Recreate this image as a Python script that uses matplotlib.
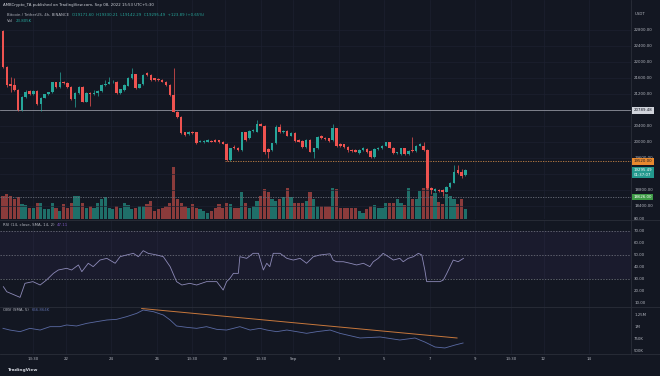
import matplotlib.pyplot as plt

# BTC/USDT 4h candles (Binance)
opens = [22780, 21880, 21440, 21425, 21300, 20800, 21130, 21270, 21200, 21270,
         20950, 21110, 21190, 21240, 21490, 21380, 21490, 21470, 21380, 21075,
         21217, 21380, 21008, 21230, 21200, 21217, 21275, 21425, 21458, 21492,
         21492, 21233, 21300, 21408, 21592, 21692, 21358, 21442, 21717, 21675,
         21590, 21575, 21550, 21508, 21425, 21175, 20758, 20633, 20242, 20192,
         20250, 20242, 20008, 19992, 20008, 20025, 20050, 20042, 20008, 19958,
         19550, 19880, 19858, 19800, 20242, 20092, 20275, 20258, 20442, 20408,
         19820, 19800, 19967, 20383, 20242, 20275, 20158, 20217, 20050, 20025,
         19883, 20050, 19758, 19842, 20158, 20108, 20092, 20050, 20342, 19942,
         19942, 19883, 19800, 19800, 19717, 19800, 19825, 19775, 19633, 19825,
         19842, 19908, 19992, 19858, 19717, 19692, 19842, 19692, 19800, 19775,
         19908, 19908, 19800, 18842, 18783, 18800, 18800, 18758, 18867, 18983,
         19300, 19258, 19171.60]
highs = [22800, 21900, 21630, 21590, 21320, 21150, 21300, 21300, 21290, 21290,
         21130, 21210, 21260, 21510, 21510, 21760, 21520, 21490, 21400, 21240,
         21400, 21400, 21240, 21260, 21300, 21300, 21450, 21560, 21620, 21540,
         21520, 21330, 21440, 21620, 21858, 21710, 21460, 21700, 21760, 21690,
         21610, 21600, 21570, 21530, 21440, 21858, 20780, 20650, 20260, 20270,
         20270, 20260, 20040, 20040, 20070, 20050, 20080, 20060, 20030, 19980,
         19860, 19920, 19880, 20260, 20260, 20290, 20330, 20550, 20470, 20430,
         19850, 19980, 20430, 20440, 20300, 20300, 20240, 20240, 20070, 20040,
         20070, 20070, 19860, 20150, 20180, 20130, 20110, 20440, 20360, 19970,
         19960, 19900, 19820, 19820, 19820, 19870, 19850, 19800, 19850, 19880,
         19930, 20010, 20010, 19880, 19760, 19860, 19860, 19790, 20133, 19930,
         19970, 20000, 19820, 18870, 18850, 18830, 18830, 18900, 19000, 19425,
         19420, 19330, 19330.21]
lows = [21860, 21380, 21260, 21280, 20780, 20780, 21100, 21170, 21180, 20930,
        20780, 21090, 21170, 21220, 21360, 21360, 21440, 21360, 21050, 20880,
        21200, 20990, 20990, 20900, 21180, 21150, 21260, 21410, 21440, 21470,
        21190, 21200, 21280, 21390, 21580, 21320, 21340, 21430, 21650, 21530,
        21530, 21520, 21490, 21400, 21150, 20740, 20600, 20190, 20150, 20170,
        20190, 19940, 19990, 19970, 19990, 19990, 19990, 19970, 19940, 19520,
        19530, 19820, 19780, 19780, 20030, 20070, 20250, 20240, 20390, 19700,
        19600, 19780, 19950, 20220, 20220, 20140, 20140, 20000, 19990, 19860,
        19860, 19740, 19592, 19820, 20070, 20050, 20000, 20030, 19880, 19880,
        19860, 19760, 19750, 19740, 19700, 19780, 19720, 19610, 19610, 19800,
        19820, 19890, 19840, 19700, 19690, 19670, 19670, 19670, 19760, 19760,
        19890, 19780, 18820, 18700, 18760, 18760, 18650, 18740, 18850, 18970,
        19190, 19100, 19142.29]
closes = [21880, 21420, 21400, 21300, 20800, 21130, 21260, 21200, 21270, 20950,
          21110, 21190, 21240, 21490, 21380, 21490, 21470, 21380, 21075, 21217,
          21380, 21008, 21217, 21200, 21217, 21275, 21425, 21458, 21492, 21500,
          21216, 21317, 21425, 21608, 21692, 21342, 21442, 21675, 21675, 21550,
          21550, 21540, 21510, 21425, 21175, 20758, 20633, 20217, 20175, 20242,
          20217, 19967, 20025, 20025, 20050, 20008, 20008, 19992, 19958, 19550,
          19842, 19840, 19800, 20242, 20050, 20275, 20300, 20442, 20408, 19742,
          19760, 19967, 20383, 20242, 20275, 20158, 20217, 20025, 20008, 19883,
          20050, 19758, 19842, 20133, 20092, 20075, 20025, 20342, 19908, 19908,
          19883, 19790, 19775, 19758, 19800, 19842, 19742, 19633, 19825, 19858,
          19908, 19992, 19858, 19717, 19742, 19842, 19692, 19775, 19775, 19908,
          19942, 19800, 18842, 18800, 18825, 18783, 18758, 18883, 18983, 19258,
          19217, 19158, 19295.49]
volumes_k = [55, 59, 54, 47, 51, 35, 33, 27, 25, 39, 38, 23, 23, 38, 25, 19, 35, 27,
             39, 55, 55, 39, 27, 31, 25, 38, 47, 51, 27, 23, 31, 27, 39, 33, 23, 25,
             31, 31, 35, 43, 19, 23, 27, 31, 39, 123, 47, 39, 31, 27, 35, 27, 23, 19,
             15, 19, 25, 35, 27, 39, 35, 27, 25, 65, 38, 27, 31, 43, 55, 70, 63, 47,
             43, 47, 51, 73, 51, 39, 39, 39, 43, 63, 47, 31, 31, 31, 31, 74, 71, 25,
             27, 25, 27, 25, 19, 15, 23, 31, 33, 27, 27, 39, 39, 39, 47, 39, 33, 73,
             47, 47, 67, 73, 73, 55, 62, 41, 35, 59, 55, 47, 35, 47, 23.8]

# RSI and OBV traced along the candle index
rsi_idx = [0.1, 1.0, 4.5, 5.8, 7.9, 9.8, 11.5, 13.3, 14.6, 16.8, 18.1, 19.9, 20.8,
           22.5, 23.8, 25.6, 27.4, 29.6, 30.9, 32.6, 34.4, 35.7, 37.0, 38.3, 40.6,
           42.3, 44.1, 45.8, 47.2, 49.3, 51.1, 53.7, 56.4, 58.1, 59.0, 59.9, 60.8,
           62.1, 62.5, 64.3, 66.0, 67.4, 68.7, 69.6, 70.4, 71.3, 73.1, 74.9, 76.6,
           78.4, 80.1, 81.9, 83.6, 86.3, 87.1, 88.0, 89.8, 91.6, 93.3, 95.1, 96.8,
           97.7, 99.0, 100.3, 101.7, 103.0, 104.7, 105.6, 106.9, 108.3, 109.6,
           110.5, 111.3, 111.8, 113.5, 115.3, 116.2, 117.1, 118.8, 120.1, 121.5]
rsi_vals = [23.6, 19.4, 14.7, 26.4, 27.8, 25.0, 29.2, 34.7, 37.5, 38.9, 37.5, 41.7,
            36.1, 43.1, 40.3, 45.8, 47.2, 43.1, 48.6, 50.0, 51.4, 48.6, 53.6, 51.4,
            50.0, 48.6, 40.3, 27.8, 25.0, 26.4, 25.0, 27.8, 27.8, 20.8, 27.8, 30.6,
            34.7, 34.7, 48.6, 47.2, 51.4, 51.4, 37.5, 43.1, 40.3, 51.4, 51.4, 47.2,
            45.8, 47.2, 43.1, 48.6, 50.0, 51.0, 45.8, 44.4, 44.4, 43.1, 41.7, 43.1,
            40.3, 44.4, 47.2, 51.4, 48.6, 45.8, 47.2, 44.4, 47.2, 48.6, 51.4, 50.0,
            37.5, 27.8, 27.8, 27.8, 29.2, 34.7, 45.8, 44.4, 47.2]
obv_idx = [0, 1.8, 4.5, 7.1, 9.8, 12.4, 15.0, 16.8, 19.4, 22.1, 24.7, 27.4, 30.0,
           32.6, 35.3, 37.0, 39.7, 42.3, 44.1, 45.8, 48.5, 51.1, 53.7, 56.4, 59.0,
           60.8, 62.5, 65.2, 67.8, 69.6, 72.2, 74.9, 77.5, 80.1, 82.8, 86.3, 88.9,
           94.2, 99.5, 104.7, 108.7, 111.3, 114.0, 116.6, 119.3, 121.4]
obv_k = [972, 937, 903, 972, 937, 1007, 1007, 1042, 1021, 1076, 1111, 1146, 1160,
         1215, 1285, 1354, 1319, 1250, 1146, 1021, 993, 972, 1007, 951, 937, 972,
         1007, 937, 972, 937, 903, 937, 903, 868, 903, 937, 868, 771, 792, 729,
         771, 687, 583, 563, 625, 667]
obv_trend_idx = [36.6, 119.8]
obv_trend_k = [1385, 771]

price_ticks = [22800, 22400, 22000, 21600, 21200, 20800, 20400, 20000, 19600, 19200, 18800, 18400]
price_labels_shown = [22800, 22400, 22000, 21600, 21200, 20400, 20000, 19600, 18800, 18400]
rsi_ticks = [80, 70, 60, 50, 40, 30, 20, 10]
obv_ticks = [1250, 1000, 750, 500]
obv_tick_labels = ['1.25M', '1M', '750K', '500K']
# days after Aug 22 00:00 (UTC+5:30)
time_ticks = [-1.4375, 0, 2, 4, 5.5625, 7, 8.5625, 10, 12, 14, 16, 18, 19.5625, 21, 23]
time_labels = ['13:30', '22', '24', '26', '13:30', '29', '13:30', 'Sep', '3', '5', '7',
               '9', '13:30', '12', '14']

resistance = 20789.48
level_mid = 19520.00
level_low = 18626.00
countdown = '01:37:07'

BG = '#131722'
UP = '#26a69a'
DOWN = '#ef5350'
TXT = '#b2b5be'
GRID = '#1c2030'
FS = 2.8
W, H = 660, 376
RIGHT = 631

first_day = -2.7708  # first candle opens Aug 19 05:30
xs = [first_day + i / 6 for i in range(len(opens))]
rsi_x = [first_day + i / 6 for i in rsi_idx]
obv_x = [first_day + i / 6 for i in obv_idx]
trend_x = [first_day + i / 6 for i in obv_trend_idx]

fig = plt.figure(figsize=(W / 100, H / 100), dpi=100, facecolor=BG)
renderer = fig.canvas.get_renderer()


def pane(top, bottom, **kw):
    return fig.add_axes([0, 1 - bottom / H, RIGHT / W, (bottom - top) / H], **kw)


def text_row(x_px, y_px, parts, gap=2.5):
    # draw coloured pieces of one line side by side
    x = x_px
    for s, c in parts:
        t = fig.text(x / W, 1 - y_px / H, s, color=c, fontsize=FS, va='center')
        x = t.get_window_extent(renderer).x1 + gap


vol_ax = pane(0, 219)
ax = pane(0, 219, sharex=vol_ax)
rsi_ax = pane(220, 307, sharex=vol_ax)
obv_ax = pane(307, 354, sharex=vol_ax)

for a in (vol_ax, ax, rsi_ax, obv_ax):
    a.set_facecolor('none')
    for s in a.spines.values():
        s.set_visible(False)
    a.tick_params(left=False, bottom=False, labelleft=False, labelbottom=False)
vol_ax.set_facecolor(BG)
vol_ax.set_xlim(-66 / 22.74, (RIGHT - 66) / 22.74)

# grid
for a in (vol_ax, rsi_ax, obv_ax):
    for t in time_ticks:
        a.axvline(t, color=GRID, lw=0.5, zorder=0)
for p in price_ticks:
    ax.axhline(p, color=GRID, lw=0.5, zorder=0)

# volume
vol_colors = ['#1f6f69' if c >= o else '#8a3b3b' for o, c in zip(opens, closes)]
vol_ax.bar(xs, volumes_k, width=0.14, color=vol_colors, zorder=1)
vol_ax.set_ylim(0, 123 * 219 / 52)

# candles
ax.set_ylim(22800 - 189 * 25, 22800 + 30 * 25)
col = [UP if c >= o else DOWN for o, c in zip(opens, closes)]
ax.vlines(xs, lows, highs, colors=col, lw=0.5, zorder=3)
bodies = [max(abs(c - o), 12) for o, c in zip(opens, closes)]
ax.bar(xs, bodies, bottom=[min(o, c) for o, c in zip(opens, closes)], width=0.11,
       color=col, zorder=4)

ax.axhline(resistance, color='#8f929c', lw=0.6, zorder=2)
ax.hlines(level_mid, 7.0, 30, color='#c98545', lw=0.6, ls=(0, (1.5, 1.5)), zorder=2)
ax.axhline(level_low, color='#6c707c', lw=0.6, ls=(0, (1.5, 1.5)), zorder=2)

# price axis
yt = ax.get_yaxis_transform()
for p in price_labels_shown:
    ax.text(1.005, p, f'{p:.2f}', transform=yt, color=TXT, fontsize=FS, va='center',
            clip_on=False)
ax.text(1.005, 23200, 'USDT', transform=yt, color=TXT, fontsize=FS, va='center')
box = dict(boxstyle='square,pad=0.35', ec='none')
ax.text(1.004, resistance, f'{resistance:.2f}', transform=yt, color='#131722', fontsize=FS,
        va='center', bbox=dict(box, fc='#d1d4dc'), zorder=10)
ax.text(1.004, level_mid, f'{level_mid:.2f}', transform=yt, color='#131722', fontsize=FS,
        va='center', bbox=dict(box, fc='#e8892f'), zorder=10)
ax.text(1.004, closes[-1] - 60, f'{closes[-1]:.2f}\n{countdown}', transform=yt,
        color='white', fontsize=FS, va='center', linespacing=1.1,
        bbox=dict(box, fc='#23998e'), zorder=10)
ax.text(1.004, level_low, f'{level_low:.2f}', transform=yt, color='white', fontsize=FS,
        va='center', bbox=dict(box, fc='#3d9a45'), zorder=10)

# RSI pane
rsi_ax.set_ylim(70 - (307 - 231) / 1.2, 70 + 11 / 1.2)
rsi_ax.axhspan(30, 70, color='#7e57c2', alpha=0.07, lw=0)
for lvl in (70, 50, 30):
    rsi_ax.axhline(lvl, color='#787b86', lw=0.5, ls=(0, (2, 2)))
rsi_ax.plot(rsi_x, rsi_vals, color='#8d8ab8', lw=0.6)
yt = rsi_ax.get_yaxis_transform()
for v in rsi_ticks:
    rsi_ax.text(1.005, v, f'{v:.2f}', transform=yt, color=TXT, fontsize=FS, va='center')

# OBV pane
obv_ax.set_ylim(1250 - 39 * 250 / 12, 1250 + 8 * 250 / 12)
obv_ax.plot(obv_x, obv_k, color='#5a6aa3', lw=0.6)
obv_ax.plot(trend_x, obv_trend_k, color='#c8783c', lw=0.7)
yt = obv_ax.get_yaxis_transform()
for v, lab in zip(obv_ticks, obv_tick_labels):
    obv_ax.text(1.005, v, lab, transform=yt, color=TXT, fontsize=FS, va='center')
xt = obv_ax.get_xaxis_transform()
for t, lab in zip(time_ticks, time_labels):
    obv_ax.text(t, -0.106, lab, transform=xt, color=TXT, fontsize=FS, ha='center',
                va='center')

# pane separators and price-scale border
for y in (219.5, 307, 354):
    fig.add_artist(plt.Line2D([0, 1], [1 - y / H] * 2, color='#2a2e39', lw=0.6))
fig.add_artist(plt.Line2D([RIGHT / W] * 2, [1 - 354 / H, 1], color='#2a2e39', lw=0.6))

# legends / header
text_row(3, 5, [('AMBCrypto_TA published on TradingView.com, Sep 08, 2022 15:53 UTC+5:30', '#d1d4dc')])
text_row(7, 15, [('Bitcoin / TetherUS, 4h, BINANCE', TXT),
                 ('O19171.60  H19330.21  L19142.29  C19295.49  +123.89 (+0.65%)', UP)])
text_row(7, 20.5, [('Vol', TXT), ('23.805K', UP)])
text_row(3, 225, [('RSI (14, close, SMA, 14, 2)', TXT), ('47.11', '#7e57c2')])
text_row(3, 310, [('OBV (SMA, 5)', TXT), ('666.864K', '#5a6aa3')])
fig.text(8 / W, 1 - 370 / H, 'TradingView', color='#d1d4dc', fontsize=3.2,
         fontweight='bold', va='center')

fig.savefig('out.png', dpi=100, facecolor=BG)
